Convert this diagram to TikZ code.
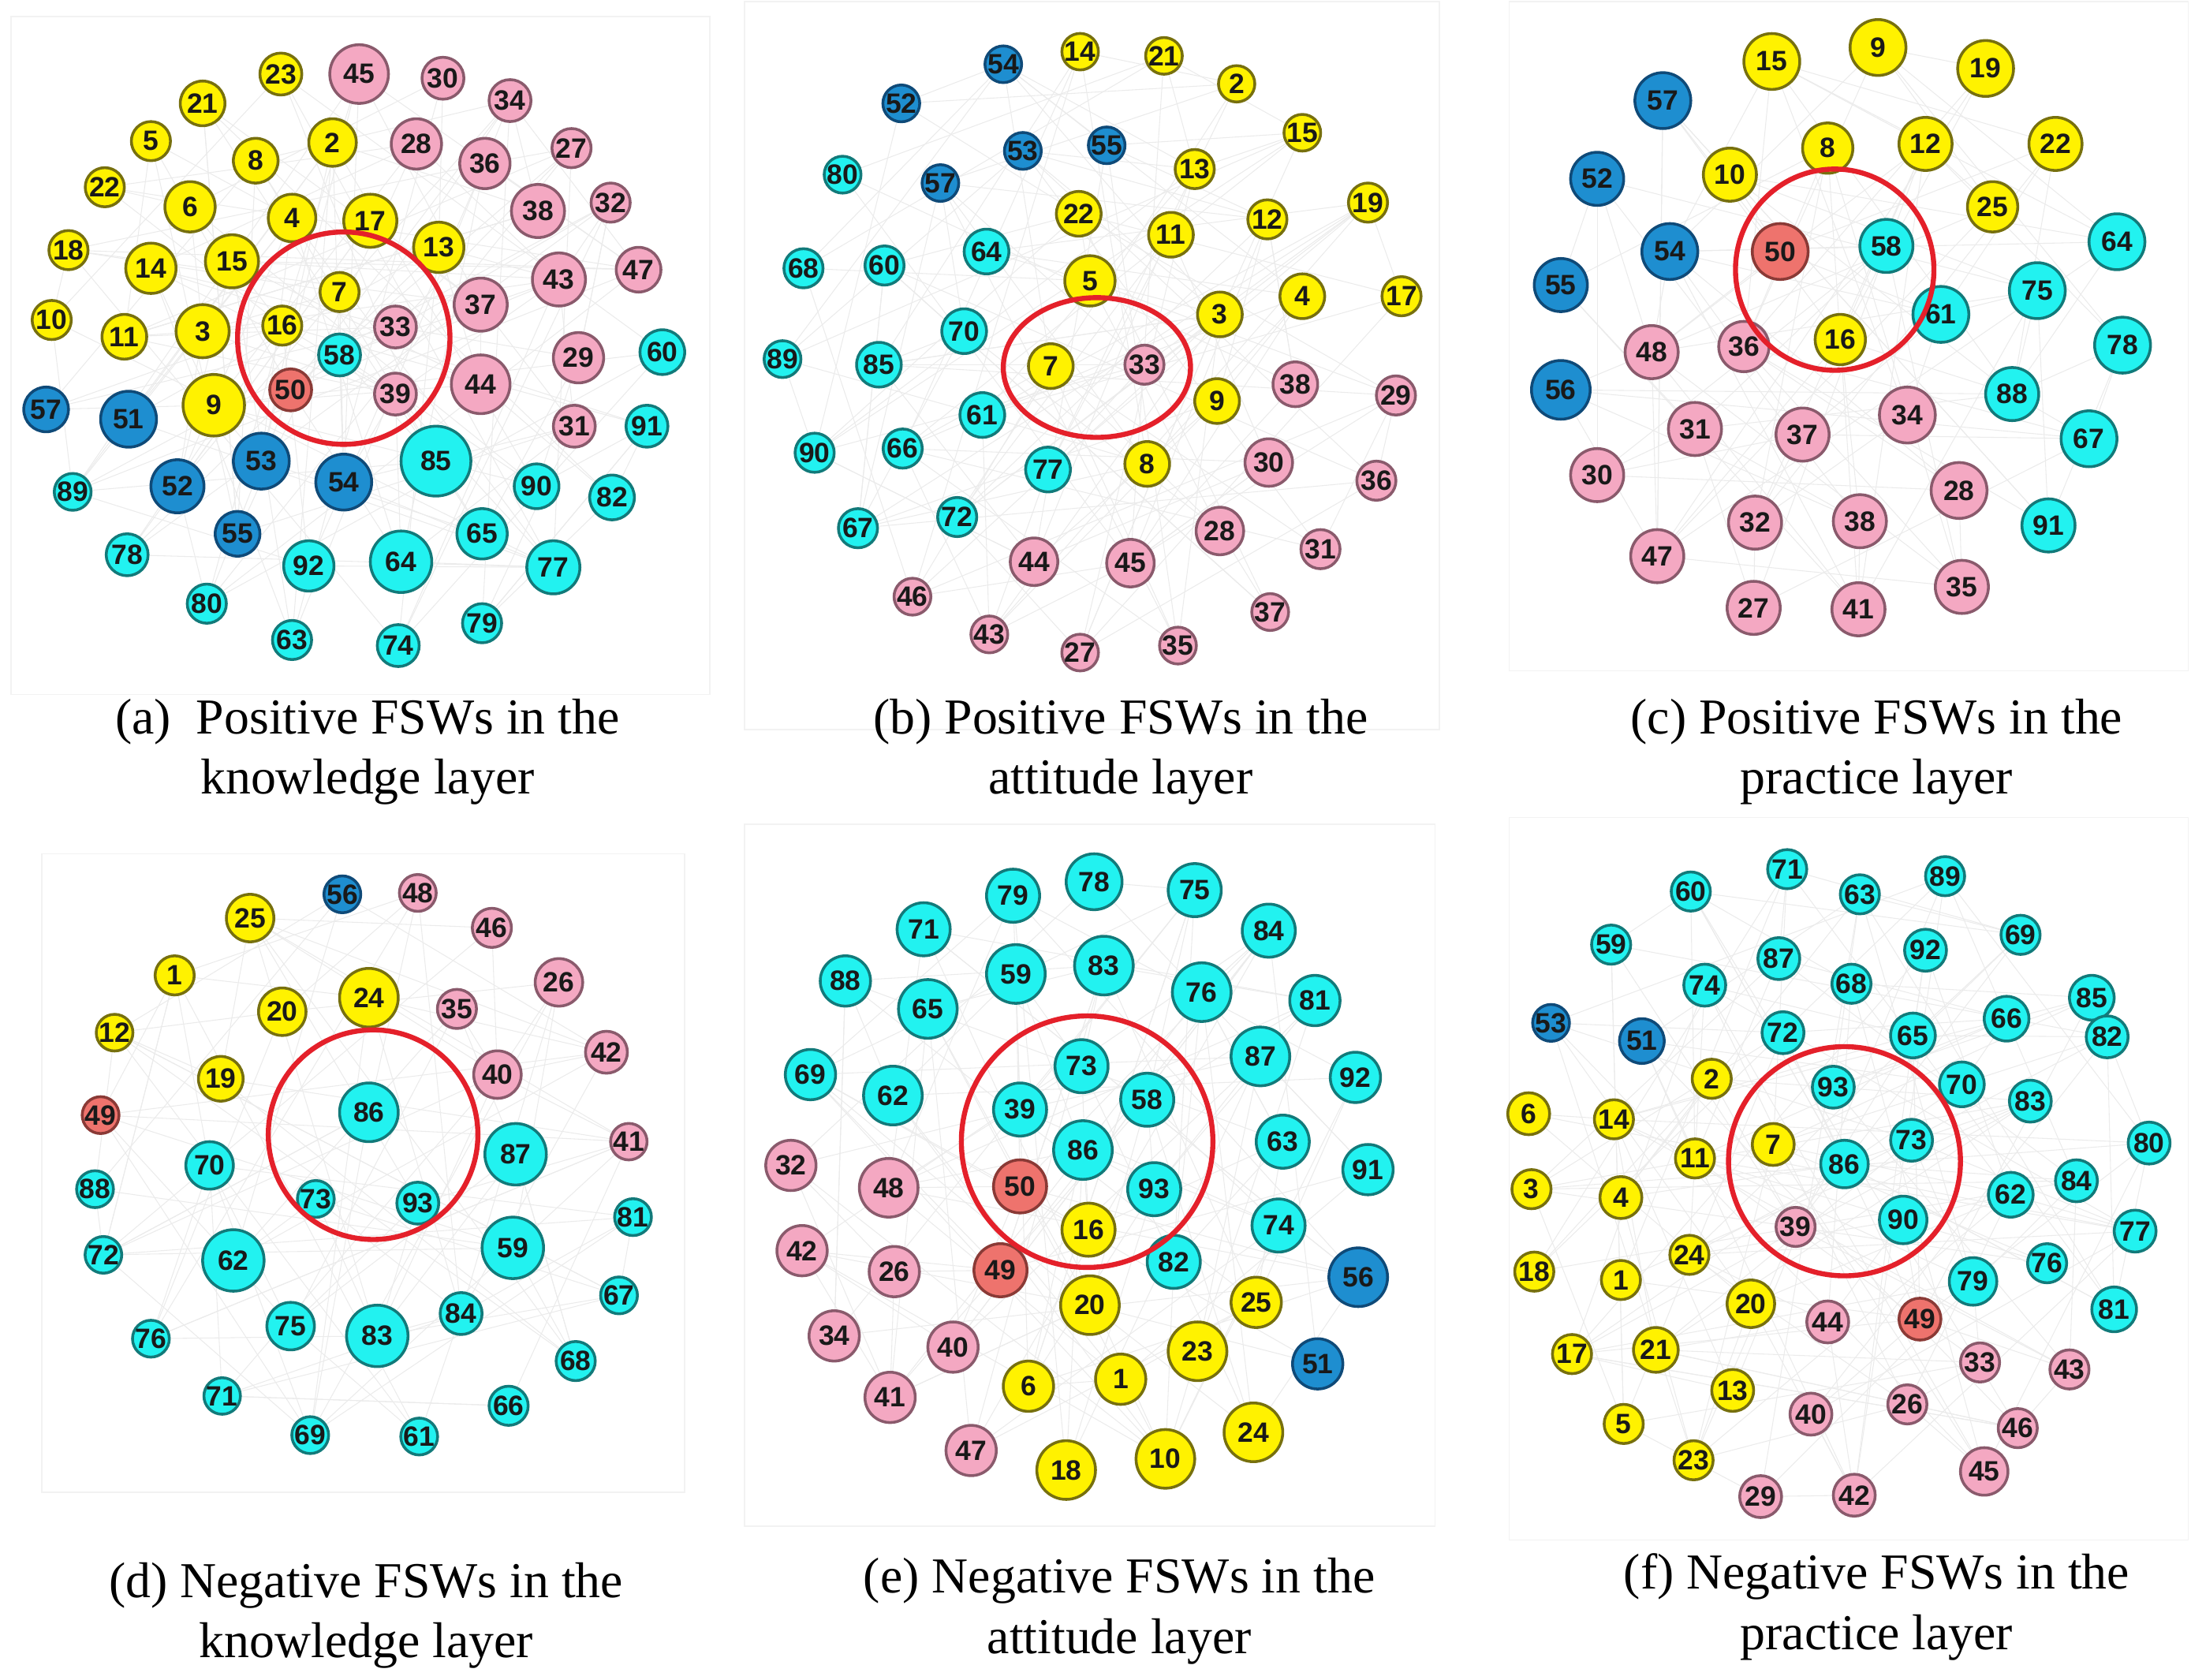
\documentclass[tikz,border=0pt]{standalone}
\usepackage{fontspec}
\setmainfont{Liberation Serif}
\newfontfamily\numfont{Liberation Sans}
\usetikzlibrary{backgrounds}

\definecolor{yelfill}{HTML}{FFF200}
\definecolor{yelline}{HTML}{77700E}
\definecolor{pnkfill}{HTML}{F4A8C2}
\definecolor{pnkline}{HTML}{8A5A6C}
\definecolor{cynfill}{HTML}{22F2F0}
\definecolor{cynline}{HTML}{127A7A}
\definecolor{blufill}{HTML}{1E8ED0}
\definecolor{bluline}{HTML}{0F4A78}
\definecolor{redfill}{HTML}{EE736D}
\definecolor{redline}{HTML}{8A3A36}
\definecolor{ringred}{HTML}{E4202A}

\tikzset{every picture/.style={line width=0.75pt},
  fsw/.style={circle, inner sep=0pt, line width=1pt, fill=#1fill, draw=#1line,
    font=\numfont\bfseries\fontsize{10}{10}\selectfont, text=black!90},
  link/.style={draw=black!8, line width=0.3pt},
  ring/.style={draw=ringred, line width=1.8pt},
  frame/.style={draw=black!5, line width=0.5pt},
  caption/.style={align=center, inner sep=0pt, font=\fontsize{18}{21.5}\selectfont}}

% faint links between random members of one panel
\newcommand\fswlinks[2]{%
  \foreach \i in {1,...,#2}{
    \foreach \k in {1,2,3}{
      \pgfmathrandominteger{\j}{1}{#2}
      \ifnum\j=\i\relax\else\draw[link] (#1\i) -- (#1\j);\fi
    }
  }}

\begin{document}
\begin{tikzpicture}[x=0.5pt,y=0.5pt,yscale=-1,xscale=1]
  \useasboundingbox (0,0) rectangle (1568,1202);
  \pgfmathsetseed{4711}

  % panel frames
  \draw[frame] (8,12) rectangle (508,497);
  \draw[frame] (533,1) rectangle (1030,522);
  \draw[frame] (1080,1) rectangle (1566,480);
  \draw[frame] (30,611) rectangle (490,1068);
  \draw[frame] (533,590) rectangle (1027,1092);
  \draw[frame] (1080,585) rectangle (1566,1102);

  %% (a) positive, knowledge layer
  \foreach [count=\i] \x/\y/\r/\t/\c in {
    201/53/15/23/yel, 257/53/21/45/pnk, 317/56/15/30/pnk, 365/72/15/34/pnk,
    145/74/16/21/yel, 108/101/14/5/yel, 183/115/16/8/yel, 238/102/17/2/yel,
    298/103/18/28/pnk, 347/117/18/36/pnk, 409/106/14/27/pnk, 75/134/14/22/yel,
    136/148/18/6/yel, 209/156/17/4/yel, 265/158/19/17/yel, 314/177/18/13/yel,
    385/151/19/38/pnk, 437/145/14/32/pnk, 49/179/14/18/yel, 108/192/18/14/yel,
    166/187/19/15/yel, 243/209/14/7/yel, 400/200/19/43/pnk, 457/193/16/47/pnk,
    37/229/14/10/yel, 89/241/16/11/yel, 145/237/19/3/yel, 202/233/14/16/yel,
    283/234/15/33/pnk, 344/218/19/37/pnk, 414/256/18/29/pnk, 243/254/15/58/cyn,
    474/252/16/60/cyn, 208/279/15/50/red, 283/282/15/39/pnk, 344/275/21/44/pnk,
    153/290/22/9/yel, 33/293/16/57/blu, 92/300/20/51/blu, 411/305/15/31/pnk,
    463/305/15/91/cyn, 312/330/25/85/cyn, 187/330/20/53/blu, 127/348/19/52/blu,
    246/345/20/54/blu, 52/352/13/89/cyn, 384/348/16/90/cyn, 438/356/16/82/cyn,
    345/382/18/65/cyn, 91/397/15/78/cyn, 170/382/16/55/blu, 221/405/18/92/cyn,
    287/402/22/64/cyn, 396/406/19/77/cyn, 148/432/14/80/cyn, 345/446/14/79/cyn,
    209/458/14/63/cyn, 285/462/15/74/cyn}
    \node[fsw=\c, minimum size=\r pt] (a\i) at (\x,\y) {\t};
  \begin{scope}[on background layer]
    \fswlinks{a}{58}
  \end{scope}
  \draw[ring] (246,242) circle [radius=76];
  % Text Node
  \node[caption] (capa) at (263,538) {(a)\enspace Positive FSWs in the\\knowledge layer};

  %% (b) positive, attitude layer
  \foreach [count=\i] \x/\y/\r/\t/\c in {
    718/46/13/54/blu, 773/37/13/14/yel, 833/40/13/21/yel, 885/60/13/2/yel,
    645/74/13/52/blu, 932/95/13/15/yel, 732/108/13/53/blu, 792/104/13/55/blu,
    855/121/14/13/yel, 603/125/13/80/cyn, 673/131/13/57/blu, 979/145/14/19/yel,
    772/153/16/22/yel, 838/168/16/11/yel, 907/157/14/12/yel, 706/180/16/64/cyn,
    575/192/14/68/cyn, 633/190/14/60/cyn, 780/201/18/5/yel, 932/212/16/4/yel,
    1003/212/14/17/yel, 873/225/16/3/yel, 690/237/16/70/cyn, 560/257/13/89/cyn,
    629/261/16/85/cyn, 752/262/16/7/yel, 819/261/14/33/pnk, 927/275/16/38/pnk,
    999/283/14/29/pnk, 871/287/16/9/yel, 703/297/16/61/cyn, 583/324/14/90/cyn,
    646/321/14/66/cyn, 750/336/16/77/cyn, 821/332/16/8/yel, 908/331/17/30/pnk,
    985/344/14/36/pnk, 614/378/14/67/cyn, 685/370/14/72/cyn, 873/380/17/28/pnk,
    945/393/14/31/pnk, 740/402/17/44/pnk, 809/403/17/45/pnk, 653/427/13/46/pnk,
    909/438/13/37/pnk, 708/454/13/43/pnk, 773/467/13/27/pnk, 843/462/13/35/pnk}
    \node[fsw=\c, minimum size=\r pt] (b\i) at (\x,\y) {\t};
  \begin{scope}[on background layer]
    \fswlinks{b}{48}
  \end{scope}
  \draw[ring] (785,263) ellipse [x radius=67, y radius=50];
  % Text Node
  \node[caption] (capb) at (802,538) {(b) Positive FSWs in the\\attitude layer};

  %% (c) positive, practice layer
  \foreach [count=\i] \x/\y/\r/\t/\c in {
    1268/44/20/15/yel, 1344/34/20/9/yel, 1421/49/20/19/yel, 1190/72/20/57/blu,
    1308/106/18/8/yel, 1378/103/19/12/yel, 1471/103/19/22/yel, 1238/125/19/10/yel,
    1143/128/19/52/blu, 1426/148/18/25/yel, 1274/180/20/50/red, 1350/176/19/58/cyn,
    1515/173/20/64/cyn, 1195/180/20/54/blu, 1117/204/19/55/blu, 1458/208/20/75/cyn,
    1389/225/20/61/cyn, 1317/243/18/16/yel, 1248/248/18/36/pnk, 1182/252/19/48/pnk,
    1519/247/20/78/cyn, 1117/279/21/56/blu, 1440/282/19/88/cyn, 1213/307/19/31/pnk,
    1290/311/19/37/pnk, 1365/297/20/34/pnk, 1495/314/20/67/cyn, 1143/340/19/30/pnk,
    1402/351/20/28/pnk, 1256/374/19/32/pnk, 1331/373/19/38/pnk, 1466/376/19/91/cyn,
    1186/398/19/47/pnk, 1404/420/19/35/pnk, 1255/435/19/27/pnk, 1330/436/19/41/pnk}
    \node[fsw=\c, minimum size=\r pt] (c\i) at (\x,\y) {\t};
  \begin{scope}[on background layer]
    \fswlinks{c}{36}
  \end{scope}
  \draw[ring] (1313,193) ellipse [x radius=71, y radius=72];
  % Text Node
  \node[caption] (capc) at (1343,538) {(c) Positive FSWs in the\\practice layer};

  %% (d) negative, knowledge layer
  \foreach [count=\i] \x/\y/\r/\t/\c in {
    245/640/12/56/blu, 299/639/13/48/pnk, 179/657/17/25/yel, 352/664/14/46/pnk,
    125/698/14/1/yel, 400/703/17/26/pnk, 264/714/21/24/yel, 202/724/17/20/yel,
    327/722/14/35/pnk, 82/739/12/12/yel, 434/753/15/42/pnk, 158/772/16/19/yel,
    356/769/17/40/pnk, 72/798/13/49/red, 264/796/21/86/cyn, 369/826/22/87/cyn,
    450/817/13/41/pnk, 150/834/17/70/cyn, 68/851/12/88/cyn, 226/858/12/73/cyn,
    299/861/15/93/cyn, 453/871/13/81/cyn, 367/893/22/59/cyn, 74/898/12/72/cyn,
    167/902/22/62/cyn, 443/927/13/67/cyn, 330/940/15/84/cyn, 208/949/17/75/cyn,
    270/956/22/83/cyn, 108/958/13/76/cyn, 412/974/14/68/cyn, 159/999/12/71/cyn,
    364/1006/14/66/cyn, 222/1027/12/69/cyn, 300/1028/12/61/cyn}
    \node[fsw=\c, minimum size=\r pt] (d\i) at (\x,\y) {\t};
  \begin{scope}[on background layer]
    \fswlinks{d}{35}
  \end{scope}
  \draw[ring] (267,812) circle [radius=75];
  % Text Node
  \node[caption] (capd) at (262,1156) {(d) Negative FSWs in the\\knowledge layer};

  %% (e) negative, attitude layer
  \foreach [count=\i] \x/\y/\r/\t/\c in {
    783/631/20/78/cyn, 725/641/19/79/cyn, 855/637/19/75/cyn, 661/665/19/71/cyn,
    908/666/19/84/cyn, 605/702/18/88/cyn, 727/697/21/59/cyn, 790/691/21/83/cyn,
    860/710/21/76/cyn, 664/722/21/65/cyn, 941/716/18/81/cyn, 902/756/21/87/cyn,
    774/763/19/73/cyn, 580/769/18/69/cyn, 639/784/21/62/cyn, 970/771/18/92/cyn,
    730/794/19/39/cyn, 821/787/19/58/cyn, 775/823/21/86/cyn, 918/817/19/63/cyn,
    979/837/18/91/cyn, 566/834/18/32/pnk, 636/850/21/48/pnk, 730/849/19/50/red,
    826/851/19/93/cyn, 779/880/19/16/yel, 915/877/19/74/cyn, 574/895/18/42/pnk,
    640/910/18/26/pnk, 716/909/19/49/red, 840/903/19/82/cyn, 972/914/21/56/blu,
    899/932/18/25/yel, 780/934/21/20/yel, 597/956/18/34/pnk, 682/964/18/40/pnk,
    857/967/21/23/yel, 943/976/18/51/blu, 736/992/18/6/yel, 802/987/18/1/yel,
    637/1000/18/41/pnk, 897/1025/21/24/yel, 695/1038/18/47/pnk, 763/1052/21/18/yel,
    834/1044/21/10/yel}
    \node[fsw=\c, minimum size=\r pt] (e\i) at (\x,\y) {\t};
  \begin{scope}[on background layer]
    \fswlinks{e}{45}
  \end{scope}
  \draw[ring] (778,817) circle [radius=90];
  % Text Node
  \node[caption] (cape) at (801,1153) {(e) Negative FSWs in the\\attitude layer};

  %% (f) negative, practice layer
  \foreach [count=\i] \x/\y/\r/\t/\c in {
    1279/622/14/71/cyn, 1392/627/14/89/cyn, 1210/638/14/60/cyn, 1331/640/14/63/cyn,
    1446/669/14/69/cyn, 1153/676/14/59/cyn, 1273/686/15/87/cyn, 1378/680/15/92/cyn,
    1325/704/14/68/cyn, 1220/705/15/74/cyn, 1497/714/16/85/cyn, 1110/732/13/53/blu,
    1175/745/16/51/blu, 1276/739/15/72/cyn, 1369/741/16/65/cyn, 1436/729/16/66/cyn,
    1508/742/15/82/cyn, 1225/772/14/2/yel, 1404/776/16/70/cyn, 1312/778/15/93/cyn,
    1453/788/15/83/cyn, 1094/797/15/6/yel, 1155/801/14/14/yel, 1538/818/15/80/cyn,
    1269/819/15/7/yel, 1368/816/15/73/cyn, 1213/829/14/11/yel, 1320/833/17/86/cyn,
    1486/845/15/84/cyn, 1439/855/16/62/cyn, 1096/851/14/3/yel, 1160/857/15/4/yel,
    1285/878/14/39/pnk, 1362/873/17/90/cyn, 1528/881/15/77/cyn, 1209/898/14/24/yel,
    1465/904/14/76/cyn, 1098/910/14/18/yel, 1160/916/14/1/yel, 1412/917/17/79/cyn,
    1253/933/17/20/yel, 1513/937/16/81/cyn, 1308/946/15/44/pnk, 1374/944/15/49/red,
    1125/969/14/17/yel, 1185/966/16/21/yel, 1417/975/14/33/pnk, 1481/980/14/43/pnk,
    1240/995/15/13/yel, 1296/1012/15/40/pnk, 1365/1005/14/26/pnk, 1444/1022/14/46/pnk,
    1162/1019/14/5/yel, 1212/1045/14/23/yel, 1420/1053/17/45/pnk, 1260/1071/15/29/pnk,
    1327/1070/15/42/pnk}
    \node[fsw=\c, minimum size=\r pt] (f\i) at (\x,\y) {\t};
  \begin{scope}[on background layer]
    \fswlinks{f}{57}
  \end{scope}
  \draw[ring] (1320,831) ellipse [x radius=83, y radius=82];
  % Text Node
  \node[caption] (capf) at (1343,1150) {(f) Negative FSWs in the\\practice layer};
\end{tikzpicture}
\end{document}
